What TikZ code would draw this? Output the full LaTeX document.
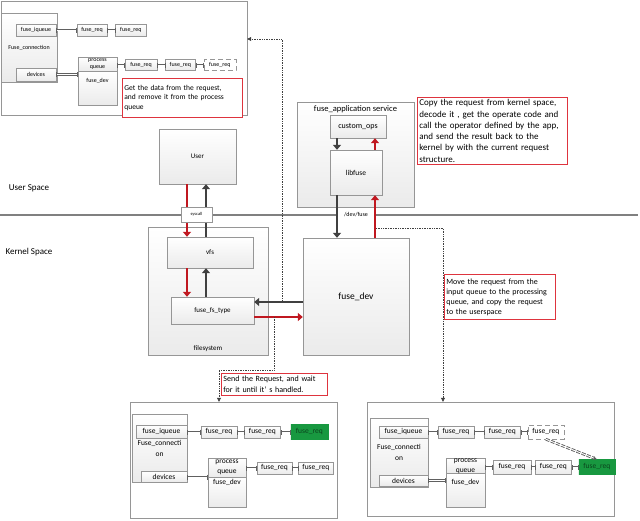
\documentclass[tikz,border=0pt]{standalone}
\usepackage{fontspec}
\setmainfont{Carlito}
\usetikzlibrary{arrows.meta, positioning, calc}
\definecolor{myred}{RGB}{192, 24, 32}
\definecolor{mydark}{RGB}{64, 64, 64}
\definecolor{noteline}{RGB}{222, 52, 62}
\definecolor{boxline}{RGB}{150, 150, 150}
\definecolor{mygreen}{RGB}{24, 152, 64}

\begin{document}
\begin{tikzpicture}[
    x=1pt, y=-1pt,
    tinyfont/.style={font=\fontsize{6}{7.5}\selectfont},
    smallfont/.style={font=\fontsize{7.5}{10}\selectfont},
    box/.style={rectangle, draw=boxline, top color=white, bottom color=gray!16, inner sep=1pt, align=center, font=\fontsize{7}{8}\selectfont},
    panel/.style={rectangle, draw=boxline, fill=white, inner sep=0pt},
    req/.style={box, minimum height=12pt},
    greenreq/.style={req, top color=mygreen, bottom color=mygreen, draw=mygreen, text=mygreen!45!black},
    dashreq/.style={req, top color=white, bottom color=white, dash pattern=on 5pt off 3pt},
    queuebox/.style={box, inner sep=0pt},
    note/.style={rectangle, draw=noteline, line width=0.8pt, fill=white, align=left, inner sep=2pt, anchor=north west},
    redarrow/.style={draw=myred, line width=2.4pt, -{Triangle[length=5pt,width=8pt]}},
    blackarrow/.style={draw=mydark, line width=2.4pt, -{Triangle[length=5pt,width=8pt]}},
    dotline/.style={draw=mydark, densely dotted, line width=0.7pt, -{Triangle[length=4pt,width=4pt]}},
    link/.style={draw=gray!75!black, double=white, double distance=0.9pt, line width=0.9pt, {Bar[width=5pt,line width=0.7pt]}-{Bar[width=5pt,line width=0.7pt]}}
]
\useasboundingbox (0,0) rectangle (640,520);

% Top panel: request taken by the daemon
\node[panel, minimum width=246pt, minimum height=114pt] (topframe) at (124,58) {};
\node[box, tinyfont, minimum width=56pt, minimum height=69pt] (conn1) at (29,47.5) {Fuse\_connection};
\node[box, tinyfont, minimum width=40pt, minimum height=12pt] (iqueue1) at (36,30) {fuse\_iqueue};
\node[box, tinyfont, minimum width=40pt, minimum height=13pt] (devices1) at (36,74.5) {devices};
\node[req, tinyfont, minimum width=30pt] (req11) at (92,30) {fuse\_req};
\node[req, tinyfont, minimum width=31pt, right=8pt of req11] (req12) {fuse\_req};
\node[box, minimum width=39pt, minimum height=34pt, anchor=north] (dev1) at (97.5,71) {};
\node[tinyfont] at ([yshift=-10pt]dev1.north) {fuse\_dev};
\node[queuebox, tinyfont, minimum width=39pt, minimum height=14pt] (pq1) at (97.5,64) {process\\queue};
\node[req, tinyfont, minimum width=32pt, minimum height=11pt] (req13) at (141,65) {fuse\_req};
\node[req, tinyfont, minimum width=30pt, minimum height=11pt, right=8pt of req13] (req14) {fuse\_req};
\node[dashreq, tinyfont, minimum width=32pt, minimum height=11pt, right=8pt of req14] (req15) {fuse\_req};

\draw[link] (iqueue1.east) -- (req11.west);
\draw[link] (req11.east) -- (req12.west);
\draw[link] (devices1.east) -- (devices1.east -| dev1.west);
\draw[link] (pq1.east |- req13.west) -- (req13.west);
\draw[link] (req13.east) -- (req14.west);
\draw[link] (req14.east) -- (req15.west);

\node[note, text width=116pt, minimum height=39pt, font=\fontsize{7.5}{9.7}\selectfont] (note1) at (122,78) {Get the data from the request,\\and remove it from the process\\queue};

% User space / kernel space
\node[font=\fontsize{9}{10}\selectfont] (userspace) at (29,188) {User Space};
\node[font=\fontsize{9}{10}\selectfont] (kernelspace) at (29,252) {Kernel Space};
\draw[draw=gray, line width=1.6pt] (0,215) -- (638,215);

\node[box, minimum width=77pt, minimum height=55pt] (user) at (197.5,156.5) {User};

\node[box, minimum width=120pt, minimum height=128pt] (filesystem) at (208,291) {};
\node[font=\fontsize{7}{8}\selectfont] at ([yshift=7pt]filesystem.south) {filesystem};
\node[box, minimum width=86pt, minimum height=31pt] (vfs) at (210,252.5) {vfs};
\node[box, minimum width=83pt, minimum height=27pt] (fstype) at (212.5,310.5) {fuse\_fs\_type};

\node[box, minimum width=106pt, minimum height=117pt, font=\fontsize{9.5}{11}\selectfont] (fusedev) at (356,296.5) {fuse\_dev};

\node[box, minimum width=117pt, minimum height=105pt] (app) at (355.5,154.5) {};
\node[font=\fontsize{8.5}{10}\selectfont] at ([yshift=-7pt]app.north) {fuse\_application service};
\node[box, minimum width=56pt, minimum height=23pt, font=\fontsize{8}{9}\selectfont] (ops) at (358,126.5) {custom\_ops};
\node[box, minimum width=52pt, minimum height=45pt, font=\fontsize{7.5}{9}\selectfont] (libfuse) at (356,172.5) {libfuse};

\node[fill=white, inner sep=1pt, minimum width=36pt, font=\fontsize{6}{7}\selectfont] (devfuse) at (356,215) {/dev/fuse};

\node[note, text width=146pt, minimum height=67pt, font=\fontsize{9}{11.3}\selectfont] (note2) at (417,97) {Copy the request from kernel space,\\decode it , get the operate code and\\call the operator defined by the app,\\and send the result back to the\\kernel by with the current request\\structure.};

% Arrows
\draw[redarrow] ([xshift=-10.5pt]user.south) -- ([xshift=-10.5pt]user.south |- vfs.north);
\draw[blackarrow] ([xshift=8.5pt]user.south |- vfs.north) -- ([xshift=8.5pt]user.south);
\draw[redarrow] ([xshift=-23pt]vfs.south) -- ([xshift=-23pt]vfs.south |- fstype.north);
\draw[blackarrow] ([xshift=-4pt]vfs.south |- fstype.north) -- ([xshift=-4pt]vfs.south);
\draw[blackarrow] ([yshift=-5.5pt]fusedev.west) -- ([yshift=-5.5pt]fusedev.west -| fstype.east);
\draw[redarrow] ([yshift=-6.5pt]fstype.east) -- ([yshift=-6.5pt]fstype.east -| fusedev.west);
\draw[blackarrow] ([xshift=-19pt]libfuse.south) -- ([xshift=-19pt]libfuse.south |- fusedev.north);
\draw[redarrow] ([xshift=19pt]libfuse.south |- fusedev.north) -- ([xshift=19pt]libfuse.south);
\draw[blackarrow] ([xshift=-21pt]ops.south) -- ([xshift=-21pt]ops.south |- libfuse.north);
\draw[redarrow] ([xshift=17pt]ops.south |- libfuse.north) -- ([xshift=17pt]ops.south);

\node[draw=boxline, fill=white, inner sep=0pt, minimum width=31pt, minimum height=15pt, font=\fontsize{4.5}{5}\selectfont] (syscall) at (196.5,214.5) {syscall};

\node[note, text width=107pt, minimum height=45pt, font=\fontsize{8}{10}\selectfont] (note3) at (444,274) {Move the request from the\\input queue to the processing\\queue, and copy the request\\to the userspace};
\node[note, text width=102pt, minimum height=22pt, font=\fontsize{8}{11}\selectfont] (note4) at (221,373) {Send the Request, and wait\\for it until it’\ s handled.};

% Bottom left panel: request queued
\node[panel, minimum width=207pt, minimum height=116pt] (framebl) at (233.5,460) {};
\node[box, smallfont, minimum width=55pt, minimum height=68pt, font=\fontsize{7.5}{11}\selectfont] (conn2) at (159.5,448) {Fuse\_connecti\\on};
\node[box, smallfont, minimum width=51pt, minimum height=13pt] (iqueue2) at (161.5,431.5) {fuse\_iqueue};
\node[box, smallfont, minimum width=46pt, minimum height=11pt] (devices2) at (164,477) {devices};
\node[req, smallfont, minimum width=36pt] (req21) at (219,432) {fuse\_req};
\node[req, smallfont, minimum width=36pt, right=7pt of req21] (req22) {fuse\_req};
\node[greenreq, smallfont, minimum width=37pt, minimum height=15pt, right=10pt of req22] (req23) {fuse\_req};
\node[box, minimum width=38pt, minimum height=30pt, anchor=north] (dev2) at (227,477) {};
\node[smallfont] at ([yshift=-5pt]dev2.north) {fuse\_dev};
\node[queuebox, smallfont, minimum width=38pt, minimum height=19pt] (pq2) at (227,467.5) {process\\queue};
\node[req, smallfont, minimum width=35pt] (req24) at (274.5,468) {fuse\_req};
\node[req, smallfont, minimum width=35pt, right=6pt of req24] (req25) {fuse\_req};

\draw[link] (iqueue2.east |- req21.west) -- (req21.west);
\draw[link] (req21.east) -- (req22.west);
\draw[link] (req22.east) -- (req23.west);
\draw[link] (devices2.east) -- (devices2.east -| dev2.west);
\draw[link] (pq2.east |- req24.west) -- (req24.west);
\draw[link] (req24.east) -- (req25.west);

% Bottom right panel: request moved to processing
\node[panel, minimum width=247pt, minimum height=114pt] (framebr) at (490.5,459) {};
\node[box, smallfont, minimum width=58pt, minimum height=69pt, font=\fontsize{7.5}{11}\selectfont] (conn3) at (399,452.5) {Fuse\_connecti\\on};
\node[box, smallfont, minimum width=49pt, minimum height=12pt] (iqueue3) at (403.5,432) {fuse\_iqueue};
\node[box, smallfont, minimum width=49pt, minimum height=11pt] (devices3) at (403.5,480.5) {devices};
\node[req, smallfont, minimum width=36pt] (req31) at (456,432) {fuse\_req};
\node[req, smallfont, minimum width=36pt, right=10pt of req31] (req32) {fuse\_req};
\node[dashreq, smallfont, minimum width=36pt, minimum height=14pt, right=7pt of req32] (req33) {fuse\_req};
\node[box, minimum width=39pt, minimum height=34pt, anchor=north] (dev3) at (465.5,473) {};
\node[smallfont] at ([yshift=-9pt]dev3.north) {fuse\_dev};
\node[queuebox, smallfont, minimum width=39pt, minimum height=14pt] (pq3) at (465.5,466) {process\\queue};
\node[req, smallfont, minimum width=38pt, minimum height=14pt] (req34) at (512,467) {fuse\_req};
\node[req, smallfont, minimum width=36pt, minimum height=14pt, right=4pt of req34] (req35) {fuse\_req};
\node[greenreq, smallfont, minimum width=36pt, minimum height=15pt, right=7pt of req35] (req36) {fuse\_req};

\draw[link] (iqueue3.east) -- (req31.west);
\draw[link] (req31.east) -- (req32.west);
\draw[link] (req32.east) -- (req33.west);
\draw[link] (devices3.east) -- (devices3.east -| dev3.west);
\draw[link] (pq3.east |- req34.west) -- (req34.west);
\draw[link] (req34.east) -- (req35.west);
\draw[link] (req35.east) -- (req36.west);
\draw[link, dash pattern=on 4pt off 1.5pt, -{Stealth[length=4pt,width=4pt]}] (req33.south) -- (req36.north);

% Dotted hints
\coordinate (d1start) at (282,302);
\coordinate (d2start) at (274,317);
\coordinate (d3start) at (376,228);
\draw[dotline] (d1start) |- ([yshift=19pt]topframe.east);
\draw[dotline] (d2start) -- ++(0,53) -| ([xshift=-14.5pt]framebl.north);
\draw[dotline] (d3start) -| ([xshift=-47.5pt]framebr.north);

\end{tikzpicture}
\end{document}
